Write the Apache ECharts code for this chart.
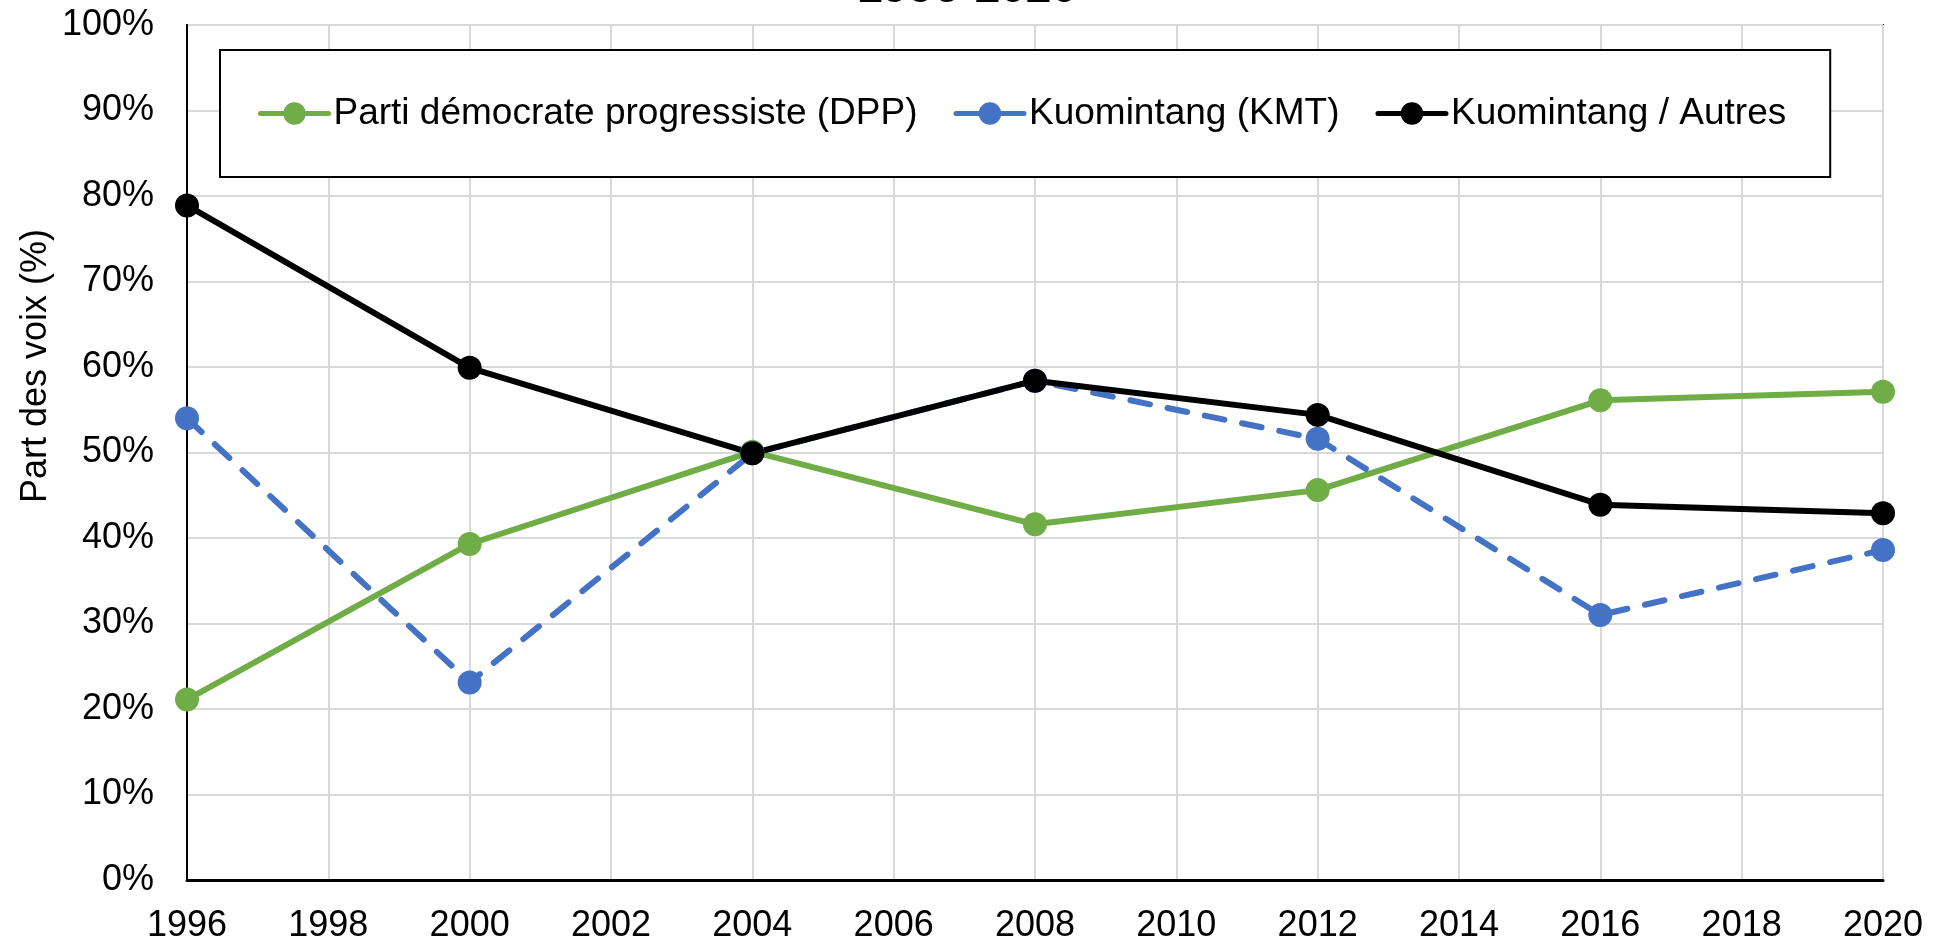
<!DOCTYPE html>
<html>
<head>
<meta charset="utf-8">
<script src="https://cdn.jsdelivr.net/npm/echarts@6/dist/echarts.min.js"></script>
<style>
    html, body { margin: 0; padding: 0; background: #fff; }
    #chart { width: 1948px; height: 944px; }
</style>
</head>
<body>
<div id="chart"></div>
<script>
// Années des élections et parts des voix (%)
const years = [1996, 2000, 2004, 2008, 2012, 2016, 2020];
const dppShare = [21.1, 39.3, 50.1, 41.6, 45.6, 56.1, 57.1];
const kmtShare = [54.0, 23.1, 49.9, 58.4, 51.6, 31.0, 38.6];
const kmtOthersShare = [78.9, 59.9, 49.9, 58.4, 54.4, 43.9, 42.9];

const seriesNames = ['Parti démocrate progressiste (DPP)', 'Kuomintang (KMT)', 'Kuomintang / Autres'];
const seriesColors = ['#70ad47', '#4472c4', '#000000'];
const seriesValues = [dppShare, kmtShare, kmtOthersShare];

const FONT = '"Liberation Sans", Arial, sans-serif';

const chart = echarts.init(document.getElementById('chart'));

const series = seriesNames.map((name, i) => ({
    name: name,
    type: 'line',
    data: years.map((y, j) => [y, seriesValues[i][j]]),
    symbol: 'circle',
    symbolSize: 24,
    clip: false,
    itemStyle: { color: seriesColors[i] },
    lineStyle: {
        color: seriesColors[i],
        width: 6,
        type: i === 1 ? [20, 18] : 'solid',
        cap: 'round'
    }
}));

chart.setOption({
    animation: false,
    backgroundColor: '#fff',
    grid: {
        left: 187,
        right: 65,
        top: 25,
        bottom: 62,
        show: true,
        borderColor: '#000',
        borderWidth: 2
    },
    legend: {
        left: 220,
        top: 50,
        padding: [45, 44, 45, 38],
        borderColor: '#000',
        borderWidth: 2,
        backgroundColor: '#fff',
        itemWidth: 68,
        itemHeight: 28,
        itemGap: 36,
        lineStyle: { width: 5, type: 'solid' },
        textStyle: { fontFamily: FONT, fontSize: 37, color: '#000' },
        data: seriesNames
    },
    graphic: [{
        // titre, coupé en haut de l'image
        type: 'text',
        x: 967,
        y: -11,
        style: {
            text: '1996-2020',
            fontFamily: FONT,
            fontSize: 46,
            fontWeight: 'bold',
            fill: '#000',
            align: 'center',
            verticalAlign: 'middle'
        }
    }, {
        type: 'text',
        x: 36,
        y: 366,
        rotation: Math.PI / 2,
        style: {
            text: 'Part des voix (%)',
            fontFamily: FONT,
            fontSize: 36,
            fill: '#000',
            align: 'center',
            verticalAlign: 'middle'
        }
    }],
    xAxis: {
        type: 'value',
        min: 1996,
        max: 2020,
        interval: 2,
        axisLine: { show: true, lineStyle: { color: '#000', width: 3 } },
        axisTick: { show: false },
        axisLabel: {
            fontFamily: FONT, fontSize: 36, color: '#000', margin: 28,
            formatter: v => String(v)
        },
        splitLine: { show: true, lineStyle: { color: '#d9d9d9', width: 2 } }
    },
    yAxis: {
        type: 'value',
        min: 0,
        max: 100,
        interval: 10,
        axisLine: { show: true, lineStyle: { color: '#000', width: 2 } },
        axisTick: { show: false },
        axisLabel: { fontFamily: FONT, fontSize: 36, color: '#000', margin: 33, formatter: '{value}%' },
        splitLine: { show: true, lineStyle: { color: '#d9d9d9', width: 2 } }
    },
    series: series
});
</script>
</body>
</html>
